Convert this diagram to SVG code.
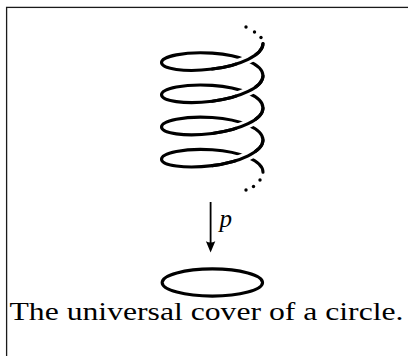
<svg xmlns="http://www.w3.org/2000/svg" width="408" height="356" viewBox="0 0 408 356">
<style>
.frame{fill:none;stroke:#1a1a1a;stroke-width:1.3}
.strand{fill:none;stroke:#000;stroke-width:3.1;stroke-linecap:round;stroke-linejoin:round}
.halo{fill:none;stroke:#fff;stroke-width:9;stroke-linecap:butt;stroke-dasharray:0 15 20 300}
.dot{fill:#000}
.conn{fill:none;stroke:#000;stroke-width:1.8}
.head{fill:#000}
.lbl{font-family:"Liberation Serif","Times New Roman",serif;fill:#000}
</style>
<rect class="frame" x="6.6" y="7.4" width="420" height="400"/>
<g id="helix">
<path class="strand" d="M263,43.5 C263,55.02 240.28,65.54 212.25,69.05 C184.22,72.56 161.5,68.75 161.5,62.6 C161.5,56.45 184.22,51.3 212.25,53.15 C240.28,55 263,64.18 263,75.7 C263,87.22 240.28,97.74 212.25,101.25 C184.22,104.76 161.5,100.95 161.5,94.8 C161.5,88.65 184.22,83.5 212.25,85.35 C240.28,87.2 263,96.38 263,107.9 C263,119.42 240.28,129.94 212.25,133.45 C184.22,136.96 161.5,133.15 161.5,127 C161.5,120.85 184.22,115.7 212.25,117.55 C240.28,119.4 263,128.58 263,140.1 C263,151.62 240.28,162.14 212.25,165.65 C184.22,169.16 161.5,165.35 161.5,159.2 C161.5,153.05 184.22,147.9 212.25,149.75 C240.28,151.6 263,160.78 263,172.3"/>
<path class="halo" d="M263,43.5 C263,55.02 240.28,65.54 212.25,69.05"/>
<path class="strand" d="M263,43.5 C263,55.02 240.28,65.54 212.25,69.05"/>
<path class="halo" d="M263,75.7 C263,87.22 240.28,97.74 212.25,101.25"/>
<path class="strand" d="M263,75.7 C263,87.22 240.28,97.74 212.25,101.25"/>
<path class="halo" d="M263,107.9 C263,119.42 240.28,129.94 212.25,133.45"/>
<path class="strand" d="M263,107.9 C263,119.42 240.28,129.94 212.25,133.45"/>
<path class="halo" d="M263,140.1 C263,151.62 240.28,162.14 212.25,165.65"/>
<path class="strand" d="M263,140.1 C263,151.62 240.28,162.14 212.25,165.65"/>
<circle class="dot" cx="261" cy="37.5" r="1.7"/>
<circle class="dot" cx="254.5" cy="32" r="1.7"/>
<circle class="dot" cx="246" cy="27" r="1.7"/>
<circle class="dot" cx="260" cy="180" r="1.7"/>
<circle class="dot" cx="253.5" cy="186.5" r="1.7"/>
<circle class="dot" cx="246" cy="190" r="1.7"/>
</g>
<g id="connectors">
<line class="conn" x1="210.6" y1="202" x2="210.6" y2="245"/>
<path class="head" d="M210.6,252.5 L205.9,241.2 Q210.6,243.6 215.3,241.2 Z"/>
<text class="lbl" x="219.5" y="226.5" font-size="25" font-style="italic">p</text>
</g>
<g id="circle">
<ellipse class="strand" cx="212.35" cy="282.5" rx="50.2" ry="13.6"/>
</g>
<text class="lbl" x="9.5" y="320" font-size="25" textLength="394" lengthAdjust="spacingAndGlyphs">The universal cover of a circle.</text>
</svg>
